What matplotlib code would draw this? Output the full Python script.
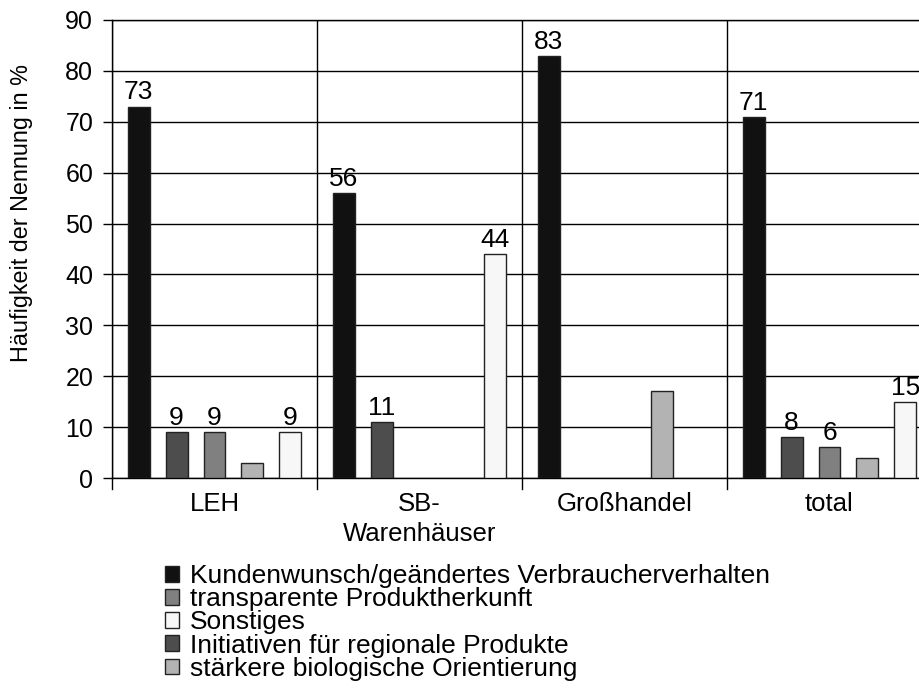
import matplotlib
matplotlib.use("Agg")
import matplotlib.pyplot as plt
import numpy as np
from matplotlib.patches import Patch

plt.rcParams['font.family'] = ['Liberation Sans', 'DejaVu Sans']

categories = ["LEH", "SB-\nWarenhäuser", "Großhandel", "total"]
series_names = ["Kundenwunsch/geändertes Verbraucherverhalten",
                "Initiativen für regionale Produkte",
                "transparente Produktherkunft",
                "stärkere biologische Orientierung",
                "Sonstiges"]
colors = ["#111111", "#4d4d4d", "#808080", "#b3b3b3", "#f7f7f7"]
values = {
    "Kundenwunsch/geändertes Verbraucherverhalten": [73, 56, 83, 71],
    "Initiativen für regionale Produkte": [9, 11, 0, 8],
    "transparente Produktherkunft": [9, 0, 0, 6],
    "stärkere biologische Orientierung": [3, 0, 17, 4],
    "Sonstiges": [9, 44, 0, 15],
}
show_labels = [True, True, True, False, True]
legend_order = [0, 2, 4, 1, 3]

fig = plt.figure(figsize=(9.2, 6.89), dpi=100)
ax = fig.add_axes([112/920, 1-478/689, 820/920, 458/689])

x = np.arange(len(categories))
spacing = 0.185
width = 0.107
for i, name in enumerate(series_names):
    vals = np.array(values[name], dtype=float)
    pos = x + (i - 2) * spacing
    mask = vals > 0
    ax.bar(pos[mask], vals[mask], width=width, color=colors[i], edgecolor="#222222",
           linewidth=1.0, zorder=3)
    if show_labels[i]:
        for p, v in zip(pos[mask], vals[mask]):
            ax.text(p, v + 0.4, f"{int(v)}", ha="center", va="bottom",
                    fontsize=19, zorder=4)

ax.set_xlim(-0.5, len(categories) - 0.5)
ax.set_ylim(0, 90)
ax.set_yticks(np.arange(0, 91, 10))
ax.tick_params(axis='y', labelsize=18, length=6.5, width=1, direction='out', pad=7)
ax.yaxis.grid(True, color="black", linewidth=1.0, zorder=0)
ax.set_axisbelow(True)

ax.set_xticks(x)
ax.set_xticklabels(categories, fontsize=18.5, linespacing=1.3)
ax.tick_params(axis='x', length=0, pad=10)
for b in np.arange(-0.5, len(categories), 1.0):
    ax.axvline(b, color="black", linewidth=1.0, zorder=2)
    ax.plot([b, b], [0, -2.2], color="black", linewidth=1.0, clip_on=False)

for s in ax.spines.values():
    s.set_linewidth(1.0)
    s.set_color("black")

fig.text(22/920, 1-213/689, "Häufigkeit der Nennung in %", fontsize=16.8,
         rotation=90, ha="center", va="center")

handles = [Patch(facecolor=colors[i], edgecolor="#222222", linewidth=1.0,
                 label=series_names[i]) for i in legend_order]
fig.legend(handles=handles, loc="upper left", bbox_to_anchor=(165/920, 1-564/689),
           frameon=False, fontsize=19, handlelength=0.52, handleheight=0.55,
           handletextpad=0.42, labelspacing=-0.03, borderpad=0, borderaxespad=0)

fig.savefig("out.png", dpi=100)
